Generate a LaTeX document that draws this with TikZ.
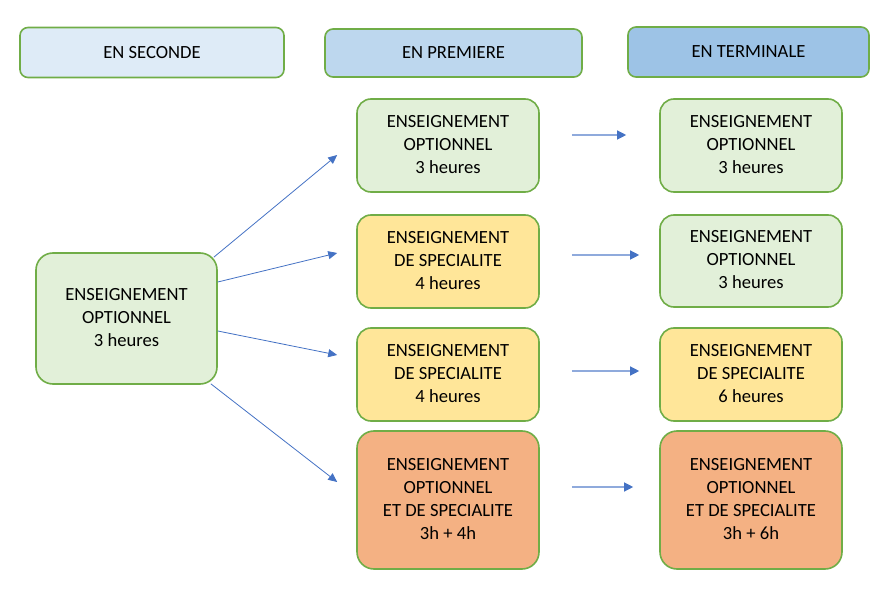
\documentclass[tikz,border=0pt]{standalone}
\usepackage{fontspec}
\setmainfont{Carlito}
\usetikzlibrary{positioning}
\usetikzlibrary{calc}
\usetikzlibrary{arrows.meta}
\definecolor{boxgreen}{HTML}{70AD47}
\definecolor{fillgreen}{HTML}{E2F0D9}
\definecolor{fillyellow}{HTML}{FFE699}
\definecolor{fillorange}{HTML}{F4B183}
\definecolor{headA}{HTML}{DEEBF7}
\definecolor{headB}{HTML}{BDD7EE}
\definecolor{headC}{HTML}{9DC3E6}
\definecolor{arrowblue}{HTML}{4472C4}
\definecolor{arrowlight}{HTML}{8FAADC}

\begin{document}
\begin{tikzpicture}[x=1pt,y=-1pt,>={Triangle[length=9pt,width=8pt]},thick]
\tikzstyle{box}=[rectangle,rounded corners=14pt,draw=boxgreen,line width=1.6pt,minimum width=182pt,minimum height=93pt,inner sep=0pt,font=\fontsize{18.6}{23}\selectfont]
\tikzstyle{head}=[box,rounded corners=8pt,minimum height=50pt]
\tikzstyle{arr}=[->,draw=arrowblue,line width=0.8pt]
\tikzstyle{harr}=[-{Triangle[length=9pt,width=9pt,color=arrowblue]},draw=arrowlight,line width=1.2pt]
\useasboundingbox (0,0) rectangle (875,593);
% column headers
\node[head, fill=headA, minimum width=264pt]	(HS)	at (152,52.5)	{EN SECONDE};
\node[head, fill=headB, minimum width=257pt, minimum height=48pt]	(HP)	at (453.5,53)	{EN PREMIERE};
\node[head, fill=headC, minimum width=241pt]	(HT)	at (748.5,52)	{EN TERMINALE};
% seconde
\node[box, fill=fillgreen, minimum width=181pt, minimum height=131pt, rounded corners=17pt]	(L)	at (126.5,318.5)	{\begin{tabular}{c}
  ENSEIGNEMENT\\
  OPTIONNEL\\
  3 heures\\
 \end{tabular}};
% premiere
\node[box, fill=fillgreen]	(M1)	at (448,145.5)	{\begin{tabular}{c}
  ENSEIGNEMENT\\
  OPTIONNEL\\
  3 heures\\
 \end{tabular}};
\node[box, fill=fillyellow]	(M2)	at (448,261.5)	{\begin{tabular}{c}
  ENSEIGNEMENT\\
  DE SPECIALITE\\
  4 heures\\
 \end{tabular}};
\node[box, fill=fillyellow]	(M3)	at (448,374.5)	{\begin{tabular}{c}
  ENSEIGNEMENT\\
  DE SPECIALITE\\
  4 heures\\
 \end{tabular}};
\node[box, fill=fillorange, minimum height=138pt, rounded corners=17pt]	(M4)	at (448,500)	{\begin{tabular}{c}
  ENSEIGNEMENT\\
  OPTIONNEL\\
  ET DE SPECIALITE\\
  3h + 4h\\
 \end{tabular}};
% terminale
\node[box, fill=fillgreen]	(T1)	at (751,145.5)	{\begin{tabular}{c}
  ENSEIGNEMENT\\
  OPTIONNEL\\
  3 heures\\
 \end{tabular}};
\node[box, fill=fillgreen, minimum height=92pt]	(T2)	at (751,261)	{\begin{tabular}{c}
  ENSEIGNEMENT\\
  OPTIONNEL\\
  3 heures\\
 \end{tabular}};
\node[box, fill=fillyellow]	(T3)	at (751,374.5)	{\begin{tabular}{c}
  ENSEIGNEMENT\\
  DE SPECIALITE\\
  6 heures\\
 \end{tabular}};
\node[box, fill=fillorange, minimum height=138pt, rounded corners=17pt]	(T4)	at (751,500)	{\begin{tabular}{c}
  ENSEIGNEMENT\\
  OPTIONNEL\\
  ET DE SPECIALITE\\
  3h + 6h\\
 \end{tabular}};
% seconde -> premiere
\draw[arr] ($(L.north east)+(-4,5)$)	--	($(M1.west)+(-19,9.5)$);
\draw[arr] ($(L.east)+(0,-36.5)$)	--	($(M2.west)+(-19,-8.5)$);
\draw[arr] ($(L.east)+(0,12.5)$)	--	($(M3.west)+(-19,-19.5)$);
\draw[arr] ($(L.south east)+(-7,-1)$)	--	($(M4.west)+(-19,-18)$);
% premiere -> terminale
\draw[harr] ($(M1.east)+(32,-10.5)$)	--	($(T1.west)+(-33,-10.5)$);
\draw[harr] ($(M2.east)+(32,-6.5)$)	--	($(T2.west)+(-20,-6)$);
\draw[harr] ($(M3.east)+(32,-3.5)$)	--	($(T3.west)+(-20,-3.5)$);
\draw[harr] ($(M4.east)+(32,-13)$)	--	($(T4.west)+(-26,-13)$);
\end{tikzpicture}
\end{document}
